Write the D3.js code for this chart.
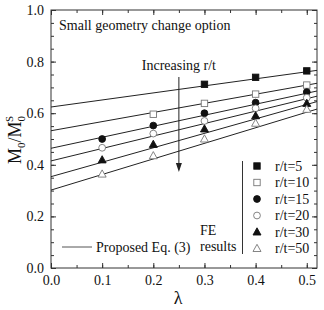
<!DOCTYPE html>
<html><head><meta charset="utf-8">
<script src="https://cdn.jsdelivr.net/npm/d3@7"></script>
<style>body{margin:0;background:#fff}svg{display:block}text{font-family:"Liberation Serif","Times New Roman",serif;fill:#111}</style>
</head><body>
<svg id="c" width="324" height="310"></svg>
<script>
const seriesNames = ["r/t=5","r/t=10","r/t=15","r/t=20","r/t=30","r/t=50"];
const markerKinds = ["squareFilled","squareOpen","circleFilled","circleOpen","triFilled","triOpen"];
const lambdaValues = [0.1,0.2,0.3,0.4,0.5];
const feRt5  = [null, null, 0.712, 0.739, 0.764];
const feRt10 = [null, 0.596, 0.638, 0.674, 0.709];
const feRt15 = [0.500, 0.552, 0.600, 0.641, 0.682];
const feRt20 = [0.466, 0.521, 0.570, 0.619, 0.660];
const feRt30 = [0.419, 0.479, 0.539, 0.590, 0.638];
const feRt50 = [0.364, 0.435, 0.500, 0.561, 0.615];
const lineLambda = [0, 0.52];
const eqAtStart = [0.624, 0.532, 0.464, 0.415, 0.354, 0.302];
const eqAtEnd   = [0.766, 0.716, 0.686, 0.666, 0.645, 0.616];
const xTicks = [0,0.1,0.2,0.3,0.4,0.5];
const yTicks = [0,0.2,0.4,0.6,0.8,1.0];
const feAll = [feRt5,feRt10,feRt15,feRt20,feRt30,feRt50];

const SERIF = '"Liberation Serif","Times New Roman",serif';
const svg = d3.select("#c");
const L=51,R=317,T=10,B=268;
const x = d3.scaleLinear().domain([0,0.52]).range([L,R]);
const y = d3.scaleLinear().domain([0,1]).range([B,T]);
const fmt = d3.format(".1f");

const xMinor = d3.range(0,0.5201,0.05);
const yMinor = d3.range(0,1.0001,0.05);
const g = svg.append("g");
g.append("g").attr("transform",`translate(0,${B})`).call(d3.axisBottom(x).tickValues(xTicks).tickFormat(fmt).tickSizeInner(-5).tickSizeOuter(0).tickPadding(7));
g.append("g").attr("transform",`translate(0,${B})`).call(d3.axisBottom(x).tickValues(xMinor).tickFormat("").tickSizeInner(-3).tickSizeOuter(0));
g.append("g").attr("transform",`translate(0,${T})`).call(d3.axisTop(x).tickValues(xTicks).tickFormat("").tickSizeInner(-5).tickSizeOuter(0));
g.append("g").attr("transform",`translate(0,${T})`).call(d3.axisTop(x).tickValues(xMinor).tickFormat("").tickSizeInner(-3).tickSizeOuter(0));
g.append("g").attr("transform",`translate(${L},0)`).call(d3.axisLeft(y).tickValues(yTicks).tickFormat(fmt).tickSizeInner(-5).tickSizeOuter(0).tickPadding(7));
g.append("g").attr("transform",`translate(${L},0)`).call(d3.axisLeft(y).tickValues(yMinor).tickFormat("").tickSizeInner(-3).tickSizeOuter(0));
g.append("g").attr("transform",`translate(${R},0)`).call(d3.axisRight(y).tickValues(yTicks).tickFormat("").tickSizeInner(-5).tickSizeOuter(0));
g.append("g").attr("transform",`translate(${R},0)`).call(d3.axisRight(y).tickValues(yMinor).tickFormat("").tickSizeInner(-3).tickSizeOuter(0));
g.selectAll(".domain").remove();
g.selectAll("g").attr("font-family",SERIF);
g.selectAll("line").attr("stroke","#333");
g.selectAll("text").style("font-family",SERIF).style("font-size","14px").attr("fill","#111");
svg.append("rect").attr("x",L).attr("y",T).attr("width",R-L).attr("height",B-T).attr("fill","none").attr("stroke","#333").attr("stroke-width",1);

eqAtStart.forEach((v,i)=>{
  svg.append("line").attr("x1",x(lineLambda[0])).attr("y1",y(v)).attr("x2",x(lineLambda[1])).attr("y2",y(eqAtEnd[i]))
    .attr("stroke","#222").attr("stroke-width",1);
});

function marker(sel, kind, cx, cy){
  const filled = kind.endsWith("Filled");
  const fill = filled ? "#111" : "#fff";
  const stroke = filled ? "#111" : "#777";
  if(kind.startsWith("square")) sel.append("rect").attr("x",cx-3.2).attr("y",cy-3.2).attr("width",6.4).attr("height",6.4).attr("fill",fill).attr("stroke",stroke).attr("stroke-width",0.9);
  else if(kind.startsWith("circle")) sel.append("circle").attr("cx",cx).attr("cy",cy).attr("r",3.4).attr("fill",fill).attr("stroke",stroke).attr("stroke-width",0.9);
  else sel.append("path").attr("d",`M${cx},${cy-4.2}L${cx+4},${cy+3}L${cx-4},${cy+3}Z`).attr("fill",fill).attr("stroke",stroke).attr("stroke-width",0.9);
}
feAll.forEach((arr,i)=>{
  arr.forEach((v,j)=>{ if(v!=null) marker(svg, markerKinds[i], x(lambdaValues[j]), y(v)); });
});

svg.append("text").attr("x",59).attr("y",30).style("font-size","14px").text("Small geometry change option");
svg.append("text").attr("x",x(0.25)).attr("y",70).attr("text-anchor","middle").style("font-size","14px").text("Increasing r/t");
svg.append("line").attr("x1",x(0.25)).attr("x2",x(0.25)).attr("y1",77).attr("y2",166).attr("stroke","#222");
svg.append("path").attr("d",`M${x(0.25)-3},163L${x(0.25)+3},163L${x(0.25)},172Z`).attr("fill","#222");

const legY0 = 166, legDy = 16.5;
svg.append("line").attr("x1",242.5).attr("x2",242.5).attr("y1",161).attr("y2",254).attr("stroke","#333");
seriesNames.forEach((n,i)=>{
  const ly = legY0 + i*legDy;
  marker(svg, markerKinds[i], 257, ly);
  svg.append("text").attr("x",275).attr("y",ly+4.5).style("font-size","14px").text(n);
});
svg.append("text").attr("x",200).attr("y",235).style("font-size","14px").text("FE");
svg.append("text").attr("x",200).attr("y",251).style("font-size","14px").text("results");
svg.append("line").attr("x1",62).attr("x2",92).attr("y1",247).attr("y2",247).attr("stroke","#555");
svg.append("text").attr("x",96).attr("y",252).style("font-size","14px").text("Proposed Eq. (3)");

svg.append("text").attr("x",178).attr("y",304).attr("text-anchor","middle").style("font-size","18px").text("λ");
const yl = svg.append("text").attr("transform","translate(21,140) rotate(-90)").attr("text-anchor","middle").style("font-size","18px");
yl.append("tspan").text("M");
yl.append("tspan").attr("dy",4).style("font-size","11px").text("0");
yl.append("tspan").attr("dy",-4).text("/M");
yl.append("tspan").attr("dy",4).style("font-size","11px").text("0");
yl.append("tspan").attr("dx",-6).attr("dy",-12).style("font-size","11px").text("S");
</script>
</body></html>
